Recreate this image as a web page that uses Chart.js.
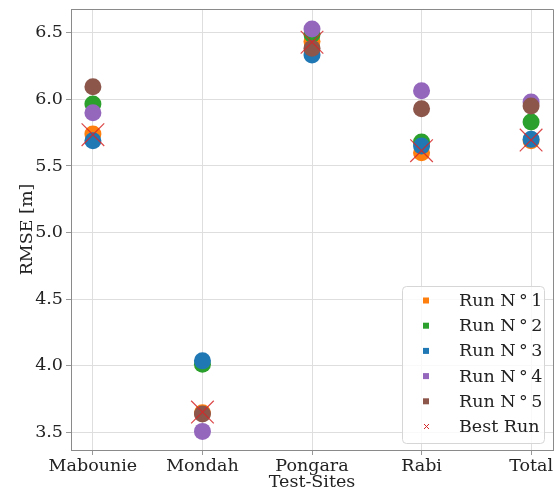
<!DOCTYPE html>
<html>
<head>
<meta charset="utf-8">
<script src="https://cdn.jsdelivr.net/npm/chart.js@4"></script>
<style>
  body { margin: 0; background: #fff; }
  canvas { display: block; }
</style>
</head>
<body>
<canvas id="rmseChart" width="557" height="493"></canvas>
<script>
const sites = ["Mabounie", "Mondah", "Pongara", "Rabi", "Total"];
const run1 = [5.74, 3.645, 6.435, 5.60, 5.69];
const run2 = [5.965, 4.01, 6.49, 5.68, 5.83];
const run3 = [5.69, 4.035, 6.335, 5.65, 5.70];
const run4 = [5.90, 3.505, 6.53, 6.065, 5.98];
const run5 = [6.095, 3.635, 6.385, 5.93, 5.95];
const bestRun = [5.735, 3.65, 6.43, 5.615, 5.695];
const yTicks = [3.5, 4.0, 4.5, 5.0, 5.5, 6.0, 6.5];

const runs = [
  { label: "Run N\u2009\u00b0\u20091", values: run1, color: "#ff7f0e" },
  { label: "Run N\u2009\u00b0\u20092", values: run2, color: "#2ca02c" },
  { label: "Run N\u2009\u00b0\u20093", values: run3, color: "#1f77b4" },
  { label: "Run N\u2009\u00b0\u20094", values: run4, color: "#9467bd" },
  { label: "Run N\u2009\u00b0\u20095", values: run5, color: "#8c564b" }
];

const toPoints = vals => vals.map((v, i) => ({ x: i, y: v }));

const datasets = runs.map((r, i) => ({
  label: r.label,
  data: toPoints(r.values),
  backgroundColor: r.color,
  borderWidth: 0,
  pointRadius: 8.5,
  order: 10 - i
}));
datasets.push({
  label: "Best Run",
  data: toPoints(bestRun),
  pointStyle: "crossRot",
  pointRadius: 16,
  borderColor: "rgba(214,39,40,0.85)",
  borderWidth: 1.2,
  order: 0
});

const font = { family: "'DejaVu Serif', serif", size: 17.5 };

// legend drawn inside the plot, lower right, plus the top/right frame
const boxLegend = {
  id: "boxLegend",
  afterDatasetsDraw(chart) {
    const ctx = chart.ctx;
    const a = chart.chartArea;
    ctx.save();
    ctx.strokeStyle = "#8a8a8a";
    ctx.lineWidth = 1;
    ctx.beginPath();
    ctx.moveTo(a.left, Math.round(a.top) + 0.5);
    ctx.lineTo(Math.round(a.right) + 0.5, Math.round(a.top) + 0.5);
    ctx.lineTo(Math.round(a.right) + 0.5, a.bottom);
    ctx.stroke();

    ctx.beginPath();
    ctx.roundRect(402.5, 286.5, 142, 157, 4);
    ctx.fillStyle = "rgba(255,255,255,0.8)";
    ctx.fill();
    ctx.strokeStyle = "#d6d6d6";
    ctx.stroke();
    ctx.font = "17.5px 'DejaVu Serif', serif";
    ctx.textBaseline = "middle";
    const items = datasets.map(d => d.label);
    items.forEach((txt, i) => {
      const y = 300.5 + i * 25.2;
      if (i < 5) {
        ctx.fillStyle = runs[i].color;
        ctx.fillRect(423, y - 3, 6, 6);
      } else {
        ctx.strokeStyle = "#d62728";
        ctx.lineWidth = 1;
        ctx.beginPath();
        ctx.moveTo(424, y - 2.5); ctx.lineTo(429, y + 2.5);
        ctx.moveTo(429, y - 2.5); ctx.lineTo(424, y + 2.5);
        ctx.stroke();
      }
      ctx.fillStyle = "#222";
      ctx.fillText(txt, 459, y + 1);
    });
    ctx.restore();
  }
};

const noPad = s => {
  s.paddingLeft = 0; s.paddingRight = 0; s.paddingTop = 0; s.paddingBottom = 0;
};

new Chart(document.getElementById("rmseChart"), {
  type: "scatter",
  data: { datasets },
  plugins: [boxLegend],
  options: {
    responsive: false,
    animation: false,
    layout: { autoPadding: false, padding: { top: 9, right: 4, left: 0, bottom: 0 } },
    plugins: { legend: { display: false }, tooltip: { enabled: false } },
    scales: {
      x: {
        type: "linear",
        min: -0.2,
        max: 4.2,
        afterFit: s => { s.height = 43; noPad(s); },
        afterBuildTicks: s => { s.ticks = sites.map((_, i) => ({ value: i })); },
        ticks: {
          font,
          color: "#222",
          padding: 1,
          maxRotation: 0,
          callback: v => sites[v]
        },
        grid: { color: "#dedede", tickColor: "#999", tickLength: 5 },
        border: { color: "#8a8a8a" },
        title: { display: true, text: "Test-Sites", font, color: "#222", padding: { top: 0, bottom: 0 } }
      },
      y: {
        min: 3.365,
        max: 6.68,
        afterFit: s => { s.width = 71; noPad(s); },
        afterBuildTicks: s => { s.ticks = yTicks.map(v => ({ value: v })); },
        ticks: {
          font,
          color: "#222",
          padding: 3,
          callback: v => v.toFixed(1)
        },
        grid: { color: "#dedede", tickColor: "#999", tickLength: 5 },
        border: { color: "#8a8a8a" },
        title: { display: true, text: "RMSE [m]", font, color: "#222", padding: { top: 17, bottom: 0 } }
      }
    }
  }
});
</script>
</body>
</html>
